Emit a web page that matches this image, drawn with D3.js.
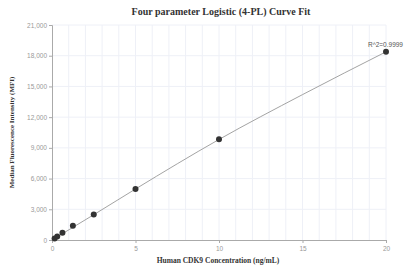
<!DOCTYPE html>
<html>
<head>
<meta charset="utf-8">
<script src="https://cdn.jsdelivr.net/npm/d3@7"></script>
<style>
  body { margin: 0; background: #fff; }
  .tick text { fill: #999; font-family: "Liberation Sans", Arial, sans-serif; font-size: 6.5px; }
  .grid line { stroke: #eef0f7; }
  .title, .axis-label { font-family: "Liberation Serif", "Times New Roman", serif; font-weight: bold; fill: #333; }
</style>
</head>
<body>
<script>
// Standard points (concentration in ng/mL, MFI)
const conc = [0.156, 0.3125, 0.625, 1.25, 2.5, 5, 10, 20];
const mfi = [150, 330, 710, 1400, 2480, 4990, 9850, 18380];

// Fitted curve
const fitX = [0, 2.5, 5, 10, 15, 20];
const fitY = [0, 2470, 4980, 9820, 14200, 18380];

const xTicks = [0, 5, 10, 15, 20];
const yTicks = [0, 3000, 6000, 9000, 12000, 15000, 18000, 21000];
const rSquared = "R^2=0.9999";

const width = 404, height = 273;
const margin = {top: 25, right: 18, bottom: 33, left: 52};

let svg = d3.select("body").append("svg")
    .attr("width", width)
    .attr("height", height);

const x = d3.scaleLinear().domain([0, 20]).range([margin.left, width - margin.right]);
const y = d3.scaleLinear().domain([0, 21000]).range([height - margin.bottom, margin.top]);

// Grid
let grid = svg.append("g").attr("class", "grid");
grid.selectAll(".vx")
    .data(d3.range(1, 21))
    .join("line")
    .attr("x1", d => x(d)).attr("x2", d => x(d))
    .attr("y1", y(21000)).attr("y2", y(0))
    .attr("stroke", d => d % 5 === 0 ? "#e4e7f2" : "#f1f2f8");
grid.selectAll(".hy")
    .data(yTicks.slice(1))
    .join("line")
    .attr("x1", x(0)).attr("x2", x(20))
    .attr("y1", d => y(d)).attr("y2", d => y(d))
    .attr("stroke", "#e8eaf3");

// Axes
let xAxis = svg.append("g")
    .attr("transform", `translate(0,${y(0)})`)
    .call(d3.axisBottom(x).tickValues(xTicks).tickSize(3).tickPadding(3));
let yAxis = svg.append("g")
    .attr("transform", `translate(${x(0)},0)`)
    .call(d3.axisLeft(y).tickValues(yTicks).tickSize(3).tickPadding(2).tickFormat(d3.format(",")));
[xAxis, yAxis].forEach(a => {
    a.select(".domain").attr("stroke", "#aaa");
    a.selectAll(".tick line").attr("stroke", "#aaa");
});

// Fit line
svg.append("path")
    .datum(fitX.map((d, i) => [d, fitY[i]]))
    .attr("fill", "none")
    .attr("stroke", "#999")
    .attr("stroke-width", 0.9)
    .attr("d", d3.line().x(d => x(d[0])).y(d => y(d[1])).curve(d3.curveMonotoneX));

// Points
svg.selectAll(".pt")
    .data(conc.map((d, i) => [d, mfi[i]]))
    .join("circle")
    .attr("cx", d => x(d[0]))
    .attr("cy", d => y(d[1]))
    .attr("r", 3)
    .attr("fill", "#333");

// R^2 label
svg.append("text")
    .attr("x", x(20) + 17)
    .attr("y", y(mfi[mfi.length - 1]) - 5)
    .attr("text-anchor", "end")
    .attr("font-family", "Liberation Sans, Arial, sans-serif")
    .attr("font-size", 6.5)
    .attr("fill", "#555")
    .text(rSquared);

// Title and axis labels
svg.append("text")
    .attr("class", "title")
    .attr("x", 221).attr("y", 15)
    .attr("text-anchor", "middle")
    .attr("font-size", 10)
    .text("Four parameter Logistic (4-PL) Curve Fit");
svg.append("text")
    .attr("class", "axis-label")
    .attr("x", 218).attr("y", 263)
    .attr("text-anchor", "middle")
    .attr("font-size", 7.5)
    .text("Human CDK9 Concentration (ng/mL)");
svg.append("text")
    .attr("class", "axis-label")
    .attr("transform", `translate(14,${(y(0) + y(21000)) / 2}) rotate(-90)`)
    .attr("text-anchor", "middle")
    .attr("font-size", 7)
    .text("Median Fluorescence Intensity (MFI)");
</script>
</body>
</html>
